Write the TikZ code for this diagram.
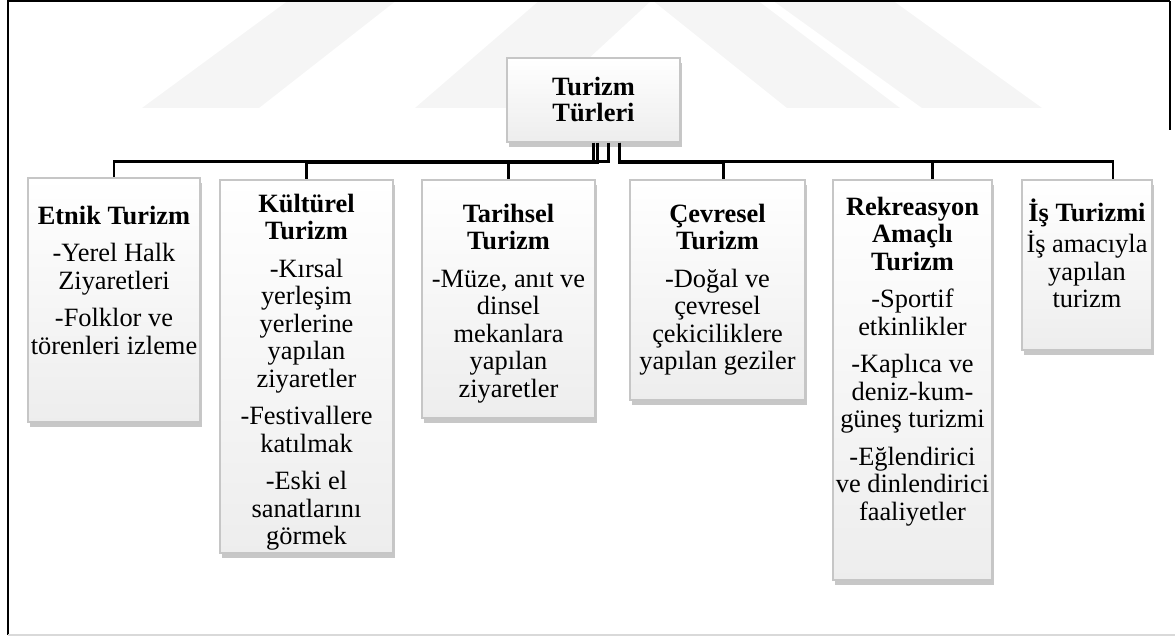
\documentclass[tikz,border=0pt]{standalone}
\usepackage{fontspec}
\setmainfont{Liberation Serif}
\usetikzlibrary{positioning, shadows, fit}

\tikzset{
	kutu/.style={draw=gray!45, line width=0.6pt, top color=white, bottom color=gray!14,
		drop shadow={shadow xshift=1.2pt, shadow yshift=-2.5pt, fill=gray!80, opacity=0.55},
		inner sep=0pt},
	yazi/.style={align=center, font=\fontsize{13.2}{13.75}\selectfont, inner sep=0pt},
	bag/.style={line width=1.1pt},
	filigran/.style={fill=gray!8, draw=none}
}

\newcommand{\ara}{\\[5pt]}

\begin{document}
\begin{tikzpicture}[x=0.5pt, y=-0.5pt]

	\useasboundingbox (0, 0) rectangle (1175, 636);

	% Watermark stripes

	\fill [filigran] (142, 108) -- (259, 108) -- (397, 0) -- (289, 0) -- cycle;
	\fill [filigran] (415, 108) -- (535, 108) -- (652, 0) -- (540, 0) -- cycle;
	\fill [filigran] (652, 0) -- (757, 0) -- (900, 108) -- (787, 108) -- cycle;
	\fill [filigran] (772, 0) -- (892, 0) -- (1042, 108) -- (922, 108) -- cycle;

	% Frame

	\draw [line width=1.2pt] (1170, 1) -- (8, 1) -- (8, 635);
	\draw [line width=1.2pt] (1170, 1) -- (1170, 130);
	\draw [gray!30, line width=0.8pt] (8, 635) -- (1175, 635);

	% Root

	\node [kutu, fit={(507, 58) (680, 142)}] (kok) {};
	\node [yazi, font=\fontsize{13.2}{13}\selectfont\bfseries] (kokyazi) at (kok) {Turizm\\Türleri};

	% Boxes

	\node [kutu, fit={(28, 178) (200, 422)}] (etnik) {};
	\node [kutu, fit={(220, 180) (393, 553)}] (kultur) {};
	\node [kutu, fit={(422, 180) (595, 418)}] (tarih) {};
	\node [kutu, fit={(630, 180) (805, 400)}] (cevre) {};
	\node [kutu, fit={(833, 180) (992, 580)}] (rekre) {};
	\node [kutu, fit={(1022, 180) (1152, 350)}] (is) {};

	% Texts

	\node [yazi, below=14pt of etnik.north] (etnikyazi)
		{\textbf{Etnik Turizm}\ara -Yerel Halk\\Ziyaretleri\ara -Folklor ve\\törenleri izleme};
	\node [yazi, below=7pt of kultur.north] (kulturyazi)
		{\textbf{Kültürel}\\\textbf{Turizm}\ara -Kırsal\\yerleşim\\yerlerine\\yapılan\\ziyaretler\ara
		-Festivallere\\katılmak\ara -Eski el\\sanatlarını\\görmek};
	\node [yazi, below=12pt of tarih.north] (tarihyazi)
		{\textbf{Tarihsel}\\\textbf{Turizm}\ara -Müze, anıt ve\\dinsel\\mekanlara\\yapılan\\ziyaretler};
	\node [yazi, below=12pt of cevre.north] (cevreyazi)
		{\textbf{Çevresel}\\\textbf{Turizm}\ara -Doğal ve\\çevresel\\çekiciliklere\\yapılan geziler};
	\node [yazi, below=8.5pt of rekre.north] (rekreyazi)
		{\textbf{Rekreasyon}\\\textbf{Amaçlı}\\\textbf{Turizm}\ara -Sportif\\etkinlikler\ara
		-Kaplıca ve\\deniz-kum-\\güneş turizmi\ara -Eğlendirici\\ve dinlendirici\\faaliyetler};
	\node [yazi, below=9.5pt of is.north] (isyazi)
		{\textbf{İş Turizmi}\\[2pt]İş amacıyla\\yapılan\\turizm};

	% Connectors

	\draw [bag] (kok.south) -- ++(0, 19) -| (etnik.north);
	\draw [bag] ([xshift=2pt]kok.south) -- ++(0, 20) -| (kultur.north);
	\draw [bag] ([xshift=7.5pt]kok.south) -- ++(0, 19) -| (tarih.north);
	\draw [bag] ([xshift=13pt]kok.south) -- ++(0, 20) -| ([xshift=3pt]cevre.north);
	\draw [bag] ([xshift=13pt]kok.south) -- ++(0, 19) -| ([xshift=10pt]rekre.north);
	\draw [bag] ([xshift=13pt]kok.south) -- ++(0, 19) -| ([xshift=13pt]is.north);

\end{tikzpicture}
\end{document}
